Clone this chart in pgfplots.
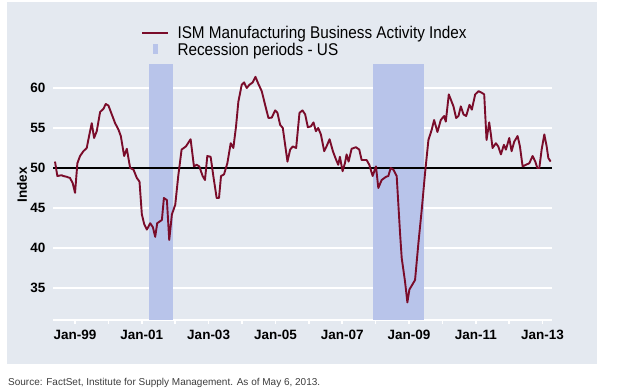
\documentclass[border=0pt]{standalone}
\usepackage{fontspec}
\setmainfont{Liberation Sans}
\newfontfamily\legfont{Liberation Sans}[FakeStretch=0.9]
\usepackage{pgfplots}
\pgfplotsset{compat=1.18}
\definecolor{panel}{RGB}{228,233,240}
\definecolor{recess}{RGB}{184,196,234}
\definecolor{ism}{RGB}{122,12,42}
\definecolor{srcgray}{RGB}{60,60,60}
\begin{document}
\begin{tikzpicture}
\useasboundingbox (0bp,0bp) rectangle (637bp,-391bp);
\fill[panel] (7bp,-2bp) rectangle (597bp,-364bp);
\node[anchor=base west, font=\fontsize{10bp}{11.5bp}\selectfont, text=srcgray, inner sep=0pt] at (8bp,-385bp) {Source: FactSet, Institute for Supply Management. As of May 6, 2013.};
\begin{axis}[
  at={(53bp,-320bp)}, anchor=south west,
  scale only axis, width=499bp, height=256bp,
  xmin=1998.34, xmax=2013.28, ymin=31, ymax=63,
  axis x line*=bottom, axis y line*=left,
  x axis line style={white, line width=2bp, -},
  y axis line style={draw=none},
  xtick={1999,...,2013},
  xticklabels={Jan-99,,Jan-01,,Jan-03,,Jan-05,,Jan-07,,Jan-09,,Jan-11,,Jan-13},
  ytick={35,40,...,60},
  ymajorgrids=true,
  major grid style={white, line width=1.3bp},
  xtick style={white, line width=1.5bp},
  ytick style={draw=none},
  major tick length=4bp, tick align=outside,
  tick label style={font=\bfseries\fontsize{13.5bp}{15bp}\selectfont, text=black},
  /pgf/number format/assume math mode=true,
  xticklabel style={yshift=-3bp},
  ylabel={Index},
  ylabel style={at={(axis description cs:-0.062,0.527)}, anchor=center, font=\bfseries\fontsize{13.5bp}{15bp}\selectfont},
  legend style={draw=none, fill=none, inner sep=0pt, outer sep=0pt,
    at={(0.1764,1.1484)}, anchor=north west,
    font=\legfont\fontsize{17bp}{19bp}\selectfont,
    row sep=3bp, column sep=8.8bp,
    cells={anchor=base west}, nodes={inner sep=0pt}},
]
\addlegendimage{legend image code/.code={\draw[ism, line width=2bp, fill=none] (0bp,5.6bp) -- (25.7bp,5.6bp);}}
\addlegendentry{ISM Manufacturing Business Activity Index}
\addlegendimage{legend image code/.code={\path[draw=none, fill=none] (0bp,0bp) -- (25.7bp,0bp); \path[draw=none, fill=recess] (10.7bp,0.8bp) rectangle (15.7bp,11bp);}}
\addlegendentry{Recession periods - US}

\addplot[fill=recess, draw=none, forget plot] coordinates {(2001.218,31) (2001.218,63) (2001.929,63) (2001.929,31)} -- cycle;
\addplot[fill=recess, draw=none, forget plot] coordinates {(2007.933,31) (2007.933,63) (2009.462,63) (2009.462,31)} -- cycle;
\addplot[black, line width=1.8bp, forget plot] coordinates {(1998.34,50) (2013.28,50)};
\addplot[ism, line width=1.9bp, line join=round, forget plot] table {
x y
1998.40 50.8
1998.47 49.0
1998.60 49.1
1998.65 49.0
1998.75 48.9
1998.85 48.75
1998.93 48.1
1999.00 46.9
1999.07 50.6
1999.15 51.5
1999.25 52.1
1999.35 52.5
1999.43 54.2
1999.50 55.6
1999.57 53.75
1999.65 54.6
1999.75 57.0
1999.85 57.4
1999.92 58.0
2000.00 57.8
2000.10 56.7
2000.20 55.6
2000.30 54.8
2000.37 54.0
2000.47 51.5
2000.55 52.4
2000.65 50.0
2000.75 49.8
2000.85 48.75
2000.93 48.3
2001.00 44.2
2001.07 43.0
2001.15 42.3
2001.25 43.1
2001.33 42.6
2001.40 41.4
2001.46 43.1
2001.60 43.5
2001.66 46.25
2001.75 46.0
2001.82 41.0
2001.90 44.2
2002.00 45.4
2002.09 49.0
2002.19 52.3
2002.32 52.7
2002.46 53.6
2002.56 50.2
2002.64 50.4
2002.72 50.2
2002.82 49.0
2002.89 48.5
2002.96 51.5
2003.06 51.4
2003.14 49.0
2003.24 46.25
2003.31 46.25
2003.37 49.0
2003.46 49.2
2003.56 50.6
2003.66 53.1
2003.74 52.5
2003.82 55.2
2003.89 58.3
2003.99 60.4
2004.06 60.7
2004.14 60.0
2004.22 60.4
2004.32 60.7
2004.40 61.4
2004.49 60.5
2004.59 59.6
2004.69 57.9
2004.79 56.25
2004.89 56.3
2004.99 57.2
2005.06 56.9
2005.14 55.4
2005.22 55.0
2005.36 50.8
2005.44 52.3
2005.52 52.7
2005.62 52.5
2005.72 56.9
2005.81 57.2
2005.89 56.7
2005.97 55.1
2006.06 55.2
2006.14 55.7
2006.21 54.6
2006.28 55.0
2006.36 54.2
2006.46 52.1
2006.54 52.8
2006.62 53.6
2006.72 52.1
2006.81 51.1
2006.88 50.4
2006.93 51.4
2007.01 49.6
2007.08 50.6
2007.13 51.7
2007.19 50.8
2007.28 52.4
2007.41 52.6
2007.51 52.3
2007.58 51.0
2007.73 51.0
2007.81 50.4
2007.91 49.0
2008.01 50.2
2008.08 47.5
2008.18 48.5
2008.31 48.9
2008.38 49.0
2008.45 50.0
2008.53 49.8
2008.63 49.0
2008.73 41.9
2008.78 38.75
2008.88 35.8
2008.95 33.2
2009.01 34.8
2009.18 36.0
2009.28 40.6
2009.38 44.8
2009.48 49.4
2009.58 53.5
2009.68 54.8
2009.75 56.0
2009.85 54.5
2009.95 56.0
2010.05 56.5
2010.10 55.8
2010.19 59.2
2010.33 57.7
2010.41 56.25
2010.48 56.5
2010.55 57.7
2010.63 56.7
2010.71 56.5
2010.81 57.9
2010.88 57.3
2010.98 59.2
2011.08 59.6
2011.18 59.4
2011.25 59.2
2011.32 53.5
2011.40 55.7
2011.45 54.2
2011.50 52.5
2011.60 53.1
2011.67 52.7
2011.75 51.7
2011.84 52.9
2011.90 52.3
2012.00 53.75
2012.07 52.1
2012.15 53.3
2012.25 54.0
2012.32 52.7
2012.40 50.2
2012.50 50.4
2012.60 50.6
2012.70 51.5
2012.78 50.8
2012.84 50.0
2012.90 50.0
2012.97 52.3
2013.05 54.2
2013.12 52.7
2013.17 51.25
2013.24 50.8
};
\end{axis}
\end{tikzpicture}
\end{document}
